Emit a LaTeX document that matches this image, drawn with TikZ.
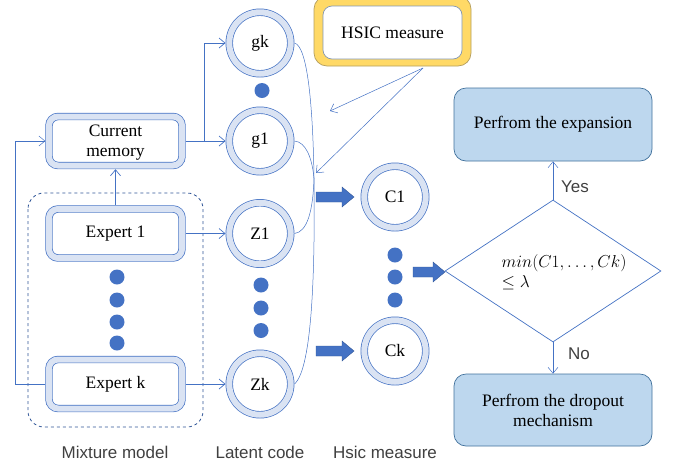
\documentclass[tikz,border=0pt]{standalone}
\usepackage{fontspec}
\setmainfont{Liberation Serif}
\newfontfamily\labfont{Liberation Sans}
\usetikzlibrary{arrows.meta,shapes.geometric}
\definecolor{bblue}{HTML}{4472C4}
\definecolor{lblue}{HTML}{DAE3F3}
\definecolor{dblue}{HTML}{2F5597}
\definecolor{pfill}{HTML}{BDD7EE}
\definecolor{pdraw}{HTML}{41719C}
\definecolor{yell}{HTML}{FFD966}
\definecolor{ydraw}{HTML}{B49E5E}
\definecolor{hdraw}{HTML}{8497B0}
\definecolor{labgray}{HTML}{404040}
\begin{document}
\begin{tikzpicture}[x=1pt,y=-1pt,
  every node/.style={font=\fontsize{17.5}{21}\selectfont, text=black},
  ring/.style={draw=bblue, double=lblue, double distance=6pt, line width=0.7pt, fill=white, outer sep=3.7pt},
  ringbox/.style={ring, rectangle, rounded corners=9pt, minimum width=133pt, minimum height=49pt, inner sep=0pt, align=center},
  ringcirc/.style={ring, circle, minimum size=61.5pt, inner sep=0pt},
  bigdot/.style={circle, fill=bblue, minimum size=15pt, inner sep=0pt},
  arr/.style={draw=bblue, line width=0.7pt, -{Straight Barb[length=6pt,width=10pt]}},
  thinarr/.style={draw=bblue, line width=0.5pt, -{Straight Barb[length=6pt,width=10pt]}},
  thinline/.style={draw=bblue, line width=0.5pt},
  decbox/.style={rectangle, rounded corners=12pt, fill=pfill, draw=pdraw, line width=0.7pt, minimum width=198pt, align=center},
  blockarr/.style={fill=bblue, draw=dblue, line width=0.4pt},
  lab/.style={font=\labfont\fontsize{17}{20}\selectfont, text=labgray}
]
\useasboundingbox (0,0) rectangle (678,467);

% mixture model dashed frame
\draw[dblue, dashed, line width=0.8pt, rounded corners=16pt] (28,193) rectangle (203,427);

% boxes
\node[ringbox] (cm) at (115.5,141) {};
\node[align=center, inner sep=0pt] (cmt) at (115.5,143) {Current\\[-1pt]memory};
\node[ringbox] (e1) at (115.5,233.5) {Expert 1};
\node[ringbox] (ek) at (115.5,384) {Expert k};

\node[bigdot] (d1) at (117,277) {};
\node[bigdot] (d2) at (117,300) {};
\node[bigdot] (d3) at (117,322) {};
\node[bigdot] (d4) at (117,343) {};

% latent circles
\node[ringcirc] (gk) at (260,43) {gk};
\node[bigdot] (d5) at (262,90.5) {};
\node[ringcirc] (g1) at (260,141) {g1};
\node[ringcirc] (z1) at (260,233.5) {Z1};
\node[bigdot] (d6) at (261,285) {};
\node[bigdot] (d7) at (261,308) {};
\node[bigdot] (d8) at (261,330.5) {};
\node[ringcirc] (zk) at (260,384) {Zk};

% hsic circles
\node[ringcirc] (c1) at (395,197) {C1};
\node[bigdot] (d9) at (395,255) {};
\node[bigdot] (d10) at (395,277) {};
\node[bigdot] (d11) at (395,300) {};
\node[ringcirc] (ck) at (395,351) {Ck};

% HSIC measure box
\node[rectangle, rounded corners=13pt, fill=yell, draw=ydraw, line width=0.7pt, minimum width=157pt, minimum height=70pt] (hsico) at (392.5,31) {};
\node[rectangle, rounded corners=9pt, fill=white, draw=hdraw, line width=0.7pt, minimum width=139pt, minimum height=53pt] (hsic) at (392.5,32.5) {HSIC measure};

% decision
\node[diamond, draw=bblue, fill=white, line width=0.7pt, minimum width=216pt, minimum height=142pt, inner sep=0pt] (dec) at (553,271) {};
\node[align=left, font=\fontsize{17}{20}\selectfont] (dect) at (564,272) {$min(C1,\ldots,Ck)$\\$\leq\lambda$};

\node[decbox, minimum height=73pt] (exp) at (553,124.5) {Perfrom the expansion};
\node[decbox, minimum height=72pt] (drop) at (553,410) {Perfrom the dropout\\[-1pt]mechanism};

% connectors
\draw[arr] (cm.east) -- ++(19,0) |- (gk.west);
\draw[arr] (cm.east) -- (g1.west);
\draw[arr] (e1.east) -- (z1.west);
\draw[arr] (ek.east) -- (zk.west);
\draw[arr] (e1.north) -- (cm.south);
\draw[thinarr] (ek.west) -- ++(-30,0) |- (cm.west);

% brace-like curves
\coordinate (mg) at (314,178);
\draw[thinline] (gk.east) .. controls (308,46) and (313,110) .. (314,178) .. controls (315,262) and (313,368) .. (zk.east);
\draw[thinline] (g1.east) .. controls (306,142) and (312,158) .. (mg);
\draw[thinline] (z1.east) .. controls (307,232) and (313,212) .. (mg);

% hsic arrows
\coordinate (hs) at (423,68);
\coordinate (ha) at (330,111);
\coordinate (hb) at (316,173);
\draw[thinarr] (hs) -- (ha);
\draw[thinarr] (hs) -- (hb);

% block arrows
\draw[blockarr] (316,192) -- (342,192) -- (342,187) -- (354,197) -- (342,207) -- (342,202) -- (316,202) -- cycle;
\draw[blockarr] (316,346) -- (342,346) -- (342,341) -- (354,351) -- (342,361) -- (342,356) -- (316,356) -- cycle;
\draw[blockarr] (413,267) -- (433,267) -- (433,262) -- (445,272) -- (433,282) -- (433,277) -- (413,277) -- cycle;

% yes / no
\draw[thinarr] (dec.north) -- (exp.south);
\draw[thinarr] (dec.south) -- (drop.north);
\node[lab] (yes) at (575,187) {Yes};
\node[lab] (no) at (579,354) {No};

% bottom labels
\node[lab] (l1) at (115,452) {Mixture model};
\node[lab] (l2) at (260,452) {Latent code};
\node[lab] (l3) at (385,452) {Hsic measure};
\end{tikzpicture}
\end{document}
